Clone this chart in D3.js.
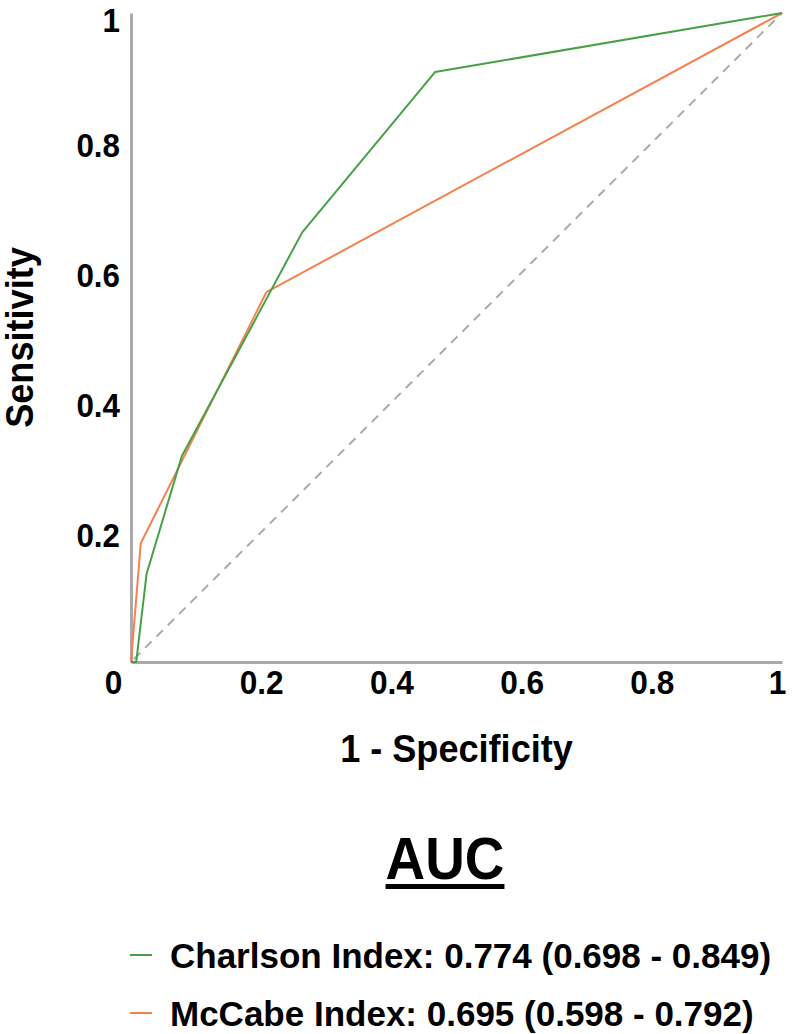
<!DOCTYPE html>
<html>
<head>
<meta charset="utf-8">
<script src="https://cdn.jsdelivr.net/npm/d3@7"></script>
<style>
  body { margin: 0; background: #fff; }
  svg text { font-family: "Liberation Sans", Arial, sans-serif; font-weight: bold; fill: #000; }
</style>
</head>
<body>
<div id="roc_chart"></div>
<script>
// ROC points
const fprCharlson = [0, 0.008, 0.024, 0.078, 0.263, 0.467, 1];
const tprCharlson = [0, 0, 0.136, 0.317, 0.662, 0.909, 1];
const fprMcCabe = [0, 0.015, 0.208, 1];
const tprMcCabe = [0, 0.183, 0.57, 1];
const xTicks = [0, 0.2, 0.4, 0.6, 0.8, 1];
const yTicks = [0.2, 0.4, 0.6, 0.8, 1];
const legendTitle = "AUC";
const legendLabels = [
  "Charlson Index: 0.774 (0.698 - 0.849)",
  "McCabe Index: 0.695 (0.598 - 0.792)"
];
const seriesColors = ["#46a046", "#f5814f"];

const width = 800, height = 1034;
const margin = { top: 13, right: 18, bottom: 372, left: 131 };

const svg = d3.select("#roc_chart")
  .append("svg")
  .attr("width", width)
  .attr("height", height);

const x = d3.scaleLinear()
  .domain([0, 1])
  .range([margin.left, width - margin.right]);

const y = d3.scaleLinear()
  .domain([0, 1])
  .range([height - margin.bottom, margin.top]);

const fmt = d => d === 0 || d === 1 ? String(d) : d.toFixed(1);

// the figure's lettering is a bit narrower than Arial, squeeze it
function condense(sel, k) {
  sel.each(function() {
    const w = this.getComputedTextLength();
    d3.select(this)
      .attr("textLength", w * k)
      .attr("lengthAdjust", "spacingAndGlyphs");
  });
}

// y axis
const yAxis = svg.append("g")
  .attr("transform", `translate(${x(0)},0)`)
  .call(d3.axisLeft(y).tickValues(yTicks).tickFormat(fmt).tickSize(0).tickSizeOuter(0).tickPadding(11));

// x axis
const xAxis = svg.append("g")
  .attr("transform", `translate(0,${y(0)})`)
  .call(d3.axisBottom(x).tickValues(xTicks).tickFormat(fmt).tickSize(0).tickSizeOuter(0).tickPadding(8));

svg.selectAll(".domain")
  .attr("stroke", "#aaaaaa")
  .attr("stroke-width", 3);

yAxis.selectAll("text")
  .attr("dy", "0.42em")
  .style("font-size", "33px")
  .call(condense, 0.95);

// top label sits a little lower so it stays inside the page
yAxis.selectAll(".tick")
  .filter(d => d === 1)
  .select("text")
  .attr("dy", "0.55em");

xAxis.selectAll("text")
  .style("font-size", "34px")
  .call(condense, 0.93);

// the "0" sits left of the origin, the "1" tucks in at the end
xAxis.selectAll(".tick")
  .filter(d => d === 0)
  .select("text")
  .attr("dx", -18);
xAxis.selectAll(".tick")
  .filter(d => d === 1)
  .select("text")
  .attr("dx", -5);

// chance line
svg.append("line")
  .attr("x1", x(0)).attr("y1", y(0))
  .attr("x2", x(1)).attr("y2", y(1))
  .attr("stroke", "#aaaaaa")
  .attr("stroke-width", 2)
  .attr("stroke-dasharray", "9,7")
  .attr("stroke-dashoffset", -4);

const line = d3.line()
  .x(d => x(d[0]))
  .y(d => y(d[1]));

const series = [
  d3.zip(fprMcCabe, tprMcCabe),
  d3.zip(fprCharlson, tprCharlson)
];
const seriesColorOrder = [seriesColors[1], seriesColors[0]];

svg.selectAll(".roc")
  .data(series)
  .enter()
  .append("path")
  .attr("class", "roc")
  .attr("d", line)
  .attr("fill", "none")
  .attr("stroke", (d, i) => seriesColorOrder[i])
  .attr("stroke-width", 2)
  .attr("stroke-linejoin", "round");

// axis titles
svg.append("text")
  .attr("transform", `translate(33,${(y(0) + y(1)) / 2})rotate(-90)`)
  .attr("text-anchor", "middle")
  .style("font-size", "38px")
  .text("Sensitivity")
  .call(condense, 0.95);

svg.append("text")
  .attr("x", (x(0) + x(1)) / 2)
  .attr("y", 762)
  .attr("text-anchor", "middle")
  .style("font-size", "38px")
  .text("1 - Specificity")
  .call(condense, 0.95);

// legend
const title = svg.append("text")
  .attr("x", 445)
  .attr("y", 879)
  .attr("text-anchor", "middle")
  .style("font-size", "59px")
  .text(legendTitle)
  .call(condense, 0.93);

const tw = +title.attr("textLength");
svg.append("rect")
  .attr("x", 445 - tw / 2)
  .attr("y", 884)
  .attr("width", tw)
  .attr("height", 5)
  .attr("fill", "#000");

const legend = svg.selectAll(".legendItem")
  .data(legendLabels)
  .enter()
  .append("g")
  .attr("class", "legendItem")
  .attr("transform", (d, i) => `translate(0,${955 + i * 58})`);

legend.append("line")
  .attr("x1", 130).attr("x2", 152)
  .attr("y1", 0).attr("y2", 0)
  .attr("stroke", (d, i) => seriesColors[i])
  .attr("stroke-width", 2);

legend.append("text")
  .attr("x", 170)
  .attr("y", 13)
  .style("font-size", "35px")
  .text(d => d);
</script>
</body>
</html>
